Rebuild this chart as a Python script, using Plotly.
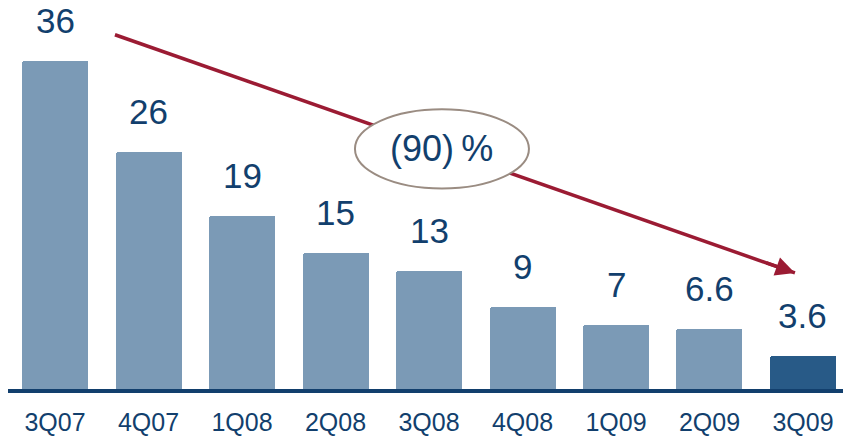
import plotly.graph_objects as go

quarters = ["3Q07", "4Q07", "1Q08", "2Q08", "3Q08", "4Q08", "1Q09", "2Q09", "3Q09"]
values = [36, 26, 19, 15, 13, 9, 7, 6.6, 3.6]
value_labels = ["36", "26", "19", "15", "13", "9", "7", "6.6", "3.6"]
change_label = "(90)\u2009%"

LIGHT = "#7b9ab6"
DARK = "#285a87"
NAVY = "#123f6d"
RED = "#9b1b33"
FONT = "Arial, Liberation Sans, sans-serif"

colors = [LIGHT] * (len(values) - 1) + [DARK]
xs = list(range(len(quarters)))

fig = go.Figure()
fig.add_trace(go.Bar(
    x=xs, y=values, width=0.706,
    marker=dict(color=colors, line=dict(width=0), cornerradius=2),
    hoverinfo="skip",
))

# value labels above each bar
for x, v, t in zip(xs, values, value_labels):
    fig.add_annotation(x=x, y=v, text=t, showarrow=False, xref="x", yref="y",
                       yanchor="bottom", yshift=19,
                       font=dict(family=FONT, size=35, color=NAVY))

# decline arrow: shaft as a shape so the ellipse can sit on top of it
arrow_start = (0.641, 38.93)
arrow_end = (7.914, 12.76)
fig.add_shape(type="line", xref="x", yref="y",
              x0=arrow_start[0], y0=arrow_start[1], x1=arrow_end[0], y1=arrow_end[1],
              line=dict(color=RED, width=3.5), layer="above")
# arrow head at the tip
fig.add_annotation(x=arrow_end[0], y=arrow_end[1], ax=-30, ay=-10.6,
                   xref="x", yref="y", text="", showarrow=True, arrowhead=2,
                   arrowsize=1.1, arrowwidth=3.5, arrowcolor=RED, standoff=0)

# ellipse with the overall change
fig.add_shape(type="circle", xref="x", yref="y",
              x0=3.208, x1=5.069, y0=22.03, y1=30.75,
              line=dict(color="#9a8c82", width=2), fillcolor="white", layer="above")
fig.add_annotation(x=4.138, y=26.4, text=change_label, showarrow=False,
                   xref="x", yref="y", font=dict(family=FONT, size=36, color=NAVY))

fig.update_layout(
    width=843, height=436,
    margin=dict(l=8, r=0, t=0, b=44),
    paper_bgcolor="white", plot_bgcolor="white",
    showlegend=False, bargap=0,
    xaxis=dict(range=[-0.503, 8.428], tickmode="array", tickvals=xs, ticktext=quarters,
               showgrid=False, zeroline=False, showline=True, linecolor=NAVY, linewidth=4,
               ticks="outside", ticklen=8, tickcolor="rgba(0,0,0,0)",
               tickfont=dict(family=FONT, size=25, color=NAVY)),
    yaxis=dict(range=[0, 42.75], visible=False, showgrid=False, zeroline=False),
)

fig.write_html("out.html")
